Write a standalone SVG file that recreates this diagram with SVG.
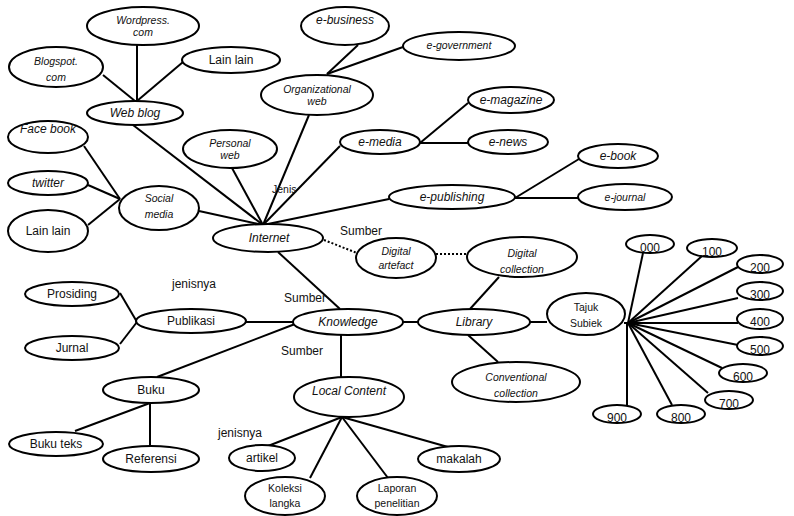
<svg xmlns="http://www.w3.org/2000/svg" width="794" height="516" viewBox="0 0 794 516">
<style>
.n ellipse{fill:#fff;stroke:#000;stroke-width:2}
text{font-family:"Liberation Sans",Arial,sans-serif;font-size:12px;fill:#111;text-anchor:middle}
.i{font-style:italic}
.s{font-size:10.5px}
.lbl{text-anchor:start}
#edges line,#edges polyline{stroke:#000;stroke-width:2;fill:none}
#edges .d{stroke-dasharray:2 2}
</style>
<rect width="794" height="516" fill="#fff"/>
<g id="edges">
<line x1="137" y1="45" x2="137" y2="101"/>
<line x1="103" y1="75" x2="135" y2="101"/>
<line x1="183" y1="62" x2="137" y2="101"/>
<line x1="133" y1="125" x2="263" y2="225"/>
<line x1="84" y1="146" x2="120" y2="199"/>
<line x1="88" y1="185" x2="120" y2="199"/>
<line x1="88" y1="225" x2="120" y2="199"/>
<line x1="199" y1="211" x2="263" y2="225"/>
<line x1="232" y1="168" x2="263" y2="225"/>
<line x1="309" y1="115" x2="263" y2="225"/>
<line x1="340" y1="146" x2="263" y2="225"/>
<line x1="389" y1="199" x2="263" y2="225"/>
<line x1="358" y1="45" x2="327" y2="74"/>
<line x1="403" y1="47" x2="327" y2="74"/>
<line x1="420" y1="143" x2="468" y2="103"/>
<line x1="420" y1="143" x2="468" y2="143"/>
<line x1="515" y1="198" x2="579" y2="159"/>
<line x1="515" y1="198" x2="578" y2="198"/>
<line class="d" x1="324" y1="240" x2="357" y2="253"/>
<line class="d" x1="436" y1="254" x2="467" y2="254"/>
<line x1="278" y1="252" x2="340" y2="309"/>
<line x1="403" y1="322" x2="418" y2="322"/>
<line x1="470" y1="309" x2="499" y2="277"/>
<line x1="530" y1="322" x2="547" y2="322"/>
<line x1="468" y1="335" x2="498" y2="362"/>
<line x1="624" y1="323" x2="628" y2="323"/>
<line x1="628" y1="323" x2="643" y2="253"/>
<line x1="628" y1="323" x2="702" y2="256"/>
<line x1="628" y1="323" x2="738" y2="267"/>
<line x1="628" y1="323" x2="738" y2="298"/>
<line x1="628" y1="323" x2="738" y2="323"/>
<line x1="628" y1="323" x2="738" y2="345"/>
<line x1="628" y1="323" x2="722" y2="368"/>
<line x1="628" y1="323" x2="708" y2="393"/>
<line x1="628" y1="323" x2="672" y2="405"/>
<line x1="627" y1="323" x2="627" y2="405"/>
<line x1="341" y1="335" x2="341" y2="377"/>
<line x1="246" y1="322" x2="293" y2="322"/>
<line x1="157" y1="377" x2="295" y2="324"/>
<line x1="120" y1="293" x2="137" y2="322"/>
<line x1="120" y1="344" x2="137" y2="322"/>
<line x1="150" y1="403" x2="75" y2="431"/>
<line x1="150" y1="403" x2="150" y2="446"/>
<line x1="342" y1="417" x2="268" y2="446"/>
<line x1="342" y1="417" x2="310" y2="478"/>
<line x1="342" y1="417" x2="388" y2="478"/>
<line x1="342" y1="417" x2="448" y2="447"/>
</g>
<g id="wordpress" class="n"><ellipse cx="143" cy="26" rx="56" ry="19"/><text class="i s" x="143" y="24">Wordpress.</text><text class="i s" x="143" y="36">com</text></g>
<g id="blogspot" class="n"><ellipse cx="56" cy="67" rx="47" ry="20"/><text class="i s" x="56" y="65">Blogspot.</text><text class="i s" x="56" y="81">com</text></g>
<g id="lainlain1" class="n"><ellipse cx="231" cy="60" rx="49" ry="13"/><text x="231" y="64">Lain lain</text></g>
<g id="webblog" class="n"><ellipse cx="135" cy="113" rx="48" ry="12"/><text class="i" x="135" y="117">Web blog</text></g>
<g id="facebook" class="n"><ellipse cx="48" cy="137" rx="40" ry="16"/><text class="i" x="48" y="133">Face book</text></g>
<g id="twitter" class="n"><ellipse cx="48" cy="183" rx="40" ry="12"/><text class="i" x="48" y="187">twitter</text></g>
<g id="lainlain2" class="n"><ellipse cx="48" cy="231" rx="40" ry="21"/><text x="48" y="235">Lain lain</text></g>
<g id="socialmedia" class="n"><ellipse cx="159" cy="208" rx="40" ry="22"/><text class="i s" x="159" y="202">Social</text><text class="i s" x="159" y="218">media</text></g>
<g id="personalweb" class="n"><ellipse cx="230" cy="149" rx="47" ry="19"/><text class="i s" x="230" y="147">Personal</text><text class="i s" x="230" y="159">web</text></g>
<g id="ebusiness" class="n"><ellipse cx="345" cy="26" rx="44" ry="19"/><text class="i" x="345" y="24">e-business</text></g>
<g id="egovernment" class="n"><ellipse cx="459" cy="46" rx="56" ry="14"/><text class="i s" x="459" y="49">e-government</text></g>
<g id="orgweb" class="n"><ellipse cx="317" cy="95" rx="56" ry="20"/><text class="i s" x="317" y="93">Organizational</text><text class="i s" x="317" y="105">web</text></g>
<g id="emagazine" class="n"><ellipse cx="511" cy="100" rx="43" ry="13"/><text class="i" x="511" y="104">e-magazine</text></g>
<g id="emedia" class="n"><ellipse cx="380" cy="142" rx="40" ry="12"/><text class="i" x="380" y="146">e-media</text></g>
<g id="enews" class="n"><ellipse cx="508" cy="142" rx="40" ry="12"/><text class="i" x="508" y="146">e-news</text></g>
<g id="ebook" class="n"><ellipse cx="618" cy="156" rx="40" ry="12"/><text class="i" x="618" y="160">e-book</text></g>
<g id="ejournal" class="n"><ellipse cx="625" cy="197" rx="47" ry="13"/><text class="i s" x="625" y="201">e-journal</text></g>
<g id="epublishing" class="n"><ellipse cx="452" cy="197" rx="63" ry="12"/><text class="i" x="452" y="201">e-publishing</text></g>
<g id="internet" class="n"><ellipse cx="268" cy="238" rx="55" ry="14"/><text class="i" x="269" y="242">Internet</text></g>
<g id="digitalartefact" class="n"><ellipse cx="396" cy="258" rx="40" ry="20"/><text class="i s" x="396" y="255">Digital</text><text class="i s" x="396" y="269">artefact</text></g>
<g id="digitalcollection" class="n"><ellipse cx="522" cy="257" rx="55" ry="20"/><text class="i s" x="522" y="257">Digital</text><text class="i s" x="522" y="273">collection</text></g>
<g id="knowledge" class="n"><ellipse cx="348" cy="322" rx="55" ry="13"/><text class="i" x="348" y="326">Knowledge</text></g>
<g id="library" class="n"><ellipse cx="474" cy="322" rx="56" ry="13"/><text class="i" x="474" y="326">Library</text></g>
<g id="tajuk" class="n"><ellipse cx="586" cy="314" rx="39" ry="21"/><text class="s" x="586" y="311">Tajuk</text><text class="s" x="586" y="327">Subiek</text></g>
<g id="conventional" class="n"><ellipse cx="516" cy="382" rx="64" ry="20"/><text class="i s" x="516" y="381">Conventional</text><text class="i s" x="516" y="397">collection</text></g>
<g id="n000" class="n"><ellipse cx="650" cy="244" rx="24" ry="9"/><text x="650" y="252">000</text></g>
<g id="n100" class="n"><ellipse cx="712" cy="248" rx="25" ry="9"/><text x="712" y="256">100</text></g>
<g id="n200" class="n"><ellipse cx="760" cy="264" rx="23" ry="9"/><text x="760" y="272">200</text></g>
<g id="n300" class="n"><ellipse cx="760" cy="291" rx="23" ry="9"/><text x="760" y="299">300</text></g>
<g id="n400" class="n"><ellipse cx="760" cy="319" rx="23" ry="10"/><text x="760" y="326">400</text></g>
<g id="n500" class="n"><ellipse cx="760" cy="346" rx="23" ry="9"/><text x="760" y="354">500</text></g>
<g id="n600" class="n"><ellipse cx="743" cy="373" rx="24" ry="9"/><text x="743" y="381">600</text></g>
<g id="n700" class="n"><ellipse cx="729" cy="400" rx="24" ry="9"/><text x="729" y="408">700</text></g>
<g id="n800" class="n"><ellipse cx="681" cy="414" rx="24" ry="9"/><text x="681" y="422">800</text></g>
<g id="n900" class="n"><ellipse cx="617" cy="414" rx="24" ry="9"/><text x="617" y="422">900</text></g>
<g id="publikasi" class="n"><ellipse cx="191" cy="321" rx="55" ry="12"/><text x="191" y="325">Publikasi</text></g>
<g id="prosiding" class="n"><ellipse cx="72" cy="294" rx="47" ry="12"/><text x="72" y="298">Prosiding</text></g>
<g id="jurnal" class="n"><ellipse cx="72" cy="348" rx="47" ry="12"/><text x="72" y="352">Jurnal</text></g>
<g id="buku" class="n"><ellipse cx="151" cy="390" rx="48" ry="13"/><text x="151" y="394">Buku</text></g>
<g id="bukuteks" class="n"><ellipse cx="56" cy="444" rx="47" ry="12"/><text x="56" y="448">Buku teks</text></g>
<g id="referensi" class="n"><ellipse cx="151" cy="459" rx="48" ry="13"/><text x="151" y="463">Referensi</text></g>
<g id="localcontent" class="n"><ellipse cx="349" cy="397" rx="55" ry="20"/><text class="i" x="349" y="395">Local Content</text></g>
<g id="artikel" class="n"><ellipse cx="262" cy="458" rx="33" ry="13"/><text x="262" y="462">artikel</text></g>
<g id="koleksi" class="n"><ellipse cx="285" cy="496" rx="40" ry="19"/><text class="s" x="285" y="492">Koleksi</text><text class="s" x="285" y="507">langka</text></g>
<g id="laporan" class="n"><ellipse cx="397" cy="496" rx="40" ry="19"/><text class="s" x="397" y="492">Laporan</text><text class="s" x="397" y="507">penelitian</text></g>
<g id="makalah" class="n"><ellipse cx="459" cy="459" rx="41" ry="13"/><text x="459" y="463">makalah</text></g>
<g id="labels">
<text class="lbl s" x="272" y="193">Jenis</text>
<text class="lbl" x="340" y="235">Sumber</text>
<text class="lbl" x="284" y="302">Sumber</text>
<text class="lbl" x="281" y="355">Sumber</text>
<text class="lbl" x="172" y="288">jenisnya</text>
<text class="lbl" x="218" y="437">jenisnya</text>
</g>
</svg>
